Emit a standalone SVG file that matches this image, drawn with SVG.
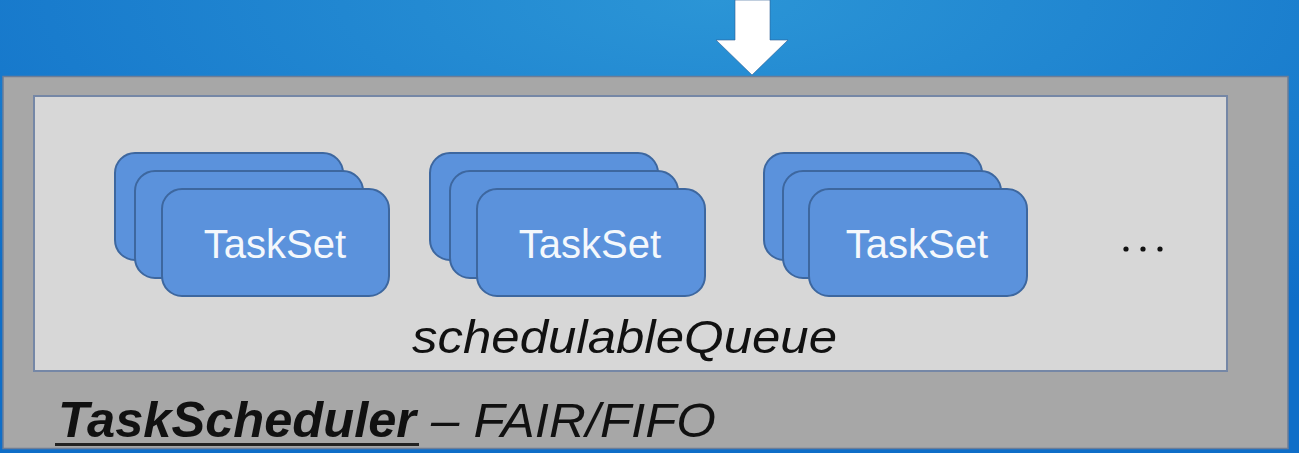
<svg xmlns="http://www.w3.org/2000/svg" width="1299" height="453" viewBox="0 0 1299 453">
<defs>
<radialGradient id="bg" cx="0.55" cy="0" r="0.8" gradientUnits="objectBoundingBox">
<stop offset="0" stop-color="#2b95d6"/>
<stop offset="1" stop-color="#0f6ec8"/>
</radialGradient>
<style>
.ts{fill:#5b92dc;stroke:#3d679f;stroke-width:2}
.tl{font-family:"Liberation Sans",Arial,sans-serif;font-size:40px;fill:#f4f8fc;text-anchor:middle}
.lab{font-family:"Liberation Sans",Arial,sans-serif;font-style:italic;fill:#111}
</style>
</defs>
<rect x="0" y="0" width="1299" height="453" fill="url(#bg)"/>
<g id="taskScheduler">
<rect x="3" y="76.5" width="1285" height="372" fill="#a7a7a7" stroke="#6d7d96" stroke-width="1.5"/>
<text class="lab" x="58" y="437" font-size="50" font-weight="bold" textLength="358" lengthAdjust="spacingAndGlyphs">TaskScheduler</text>
<rect x="55" y="443" width="364" height="3" fill="#222"/>
<text class="lab" x="431" y="437" font-size="49" textLength="285" lengthAdjust="spacingAndGlyphs">– FAIR/FIFO</text>
</g>
<g id="schedulableQueue">
<rect x="34" y="96" width="1193" height="275" fill="#d7d7d7" stroke="#7587a6" stroke-width="2"/>
<text class="lab" x="412" y="353" font-size="46" textLength="425" lengthAdjust="spacingAndGlyphs">schedulableQueue</text>
</g>
<g id="taskset1">
<rect class="ts" x="115" y="153" width="228" height="107" rx="20"/>
<rect class="ts" x="135" y="171" width="228" height="107" rx="20"/>
<rect class="ts" x="162" y="189" width="227" height="107" rx="20"/>
<text class="tl" x="275" y="258">TaskSet</text>
</g>
<g id="taskset2">
<rect class="ts" x="430" y="153" width="228" height="107" rx="20"/>
<rect class="ts" x="450" y="171" width="228" height="107" rx="20"/>
<rect class="ts" x="477" y="189" width="228" height="107" rx="20"/>
<text class="tl" x="590" y="258">TaskSet</text>
</g>
<g id="taskset3">
<rect class="ts" x="764" y="153" width="218" height="107" rx="20"/>
<rect class="ts" x="783" y="171" width="218" height="107" rx="20"/>
<rect class="ts" x="809" y="189" width="218" height="107" rx="20"/>
<text class="tl" x="917" y="258">TaskSet</text>
</g>
<g id="ellipsis" fill="#111">
<circle cx="1126" cy="249" r="2.6"/>
<circle cx="1143" cy="249" r="2.6"/>
<circle cx="1160" cy="249" r="2.6"/>
</g>
<g id="connectors">
<polygon points="735,0 770,0 770,40 788,40 752,75 716,40 735,40" fill="#ffffff" stroke="#2e5f95" stroke-opacity="0.6" stroke-width="1"/>
</g>
</svg>
